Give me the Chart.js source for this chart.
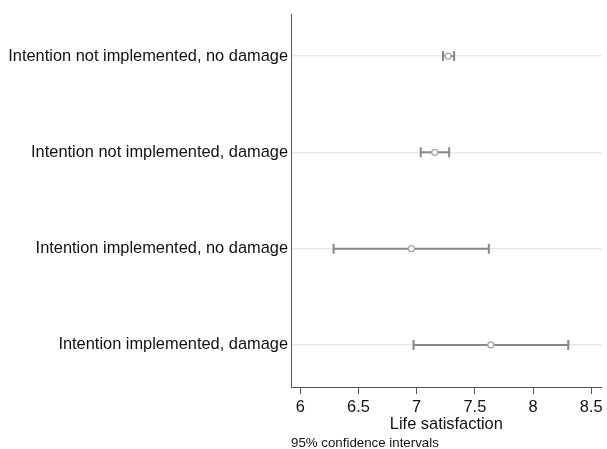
<!DOCTYPE html>
<html>
<head>
<meta charset="utf-8">
<script src="https://cdn.jsdelivr.net/npm/chart.js@4"></script>
<style>
html,body{margin:0;padding:0;background:#fff;}
#wrap{width:607px;height:449px;position:relative;}
</style>
</head>
<body>
<div id="wrap"><canvas id="c"></canvas></div>
<script>
const categories = [
  "Intention not implemented, no damage",
  "Intention not implemented, damage",
  "Intention implemented, no damage",
  "Intention implemented, damage"
];
const estimates = [7.27, 7.155, 6.955, 7.637];
const ciLower = [7.226, 7.035, 6.286, 6.973];
const ciUpper = [7.322, 7.279, 7.62, 8.303];
const xTicks = [6, 6.5, 7, 7.5, 8, 8.5];
const xTitle = "Life satisfaction";
const note = "95% confidence intervals";

const FONT = "'Liberation Sans', Arial, sans-serif";
const NOTE_SIZE = 13.3, NOTE_LH = 0.8;

const points = estimates.map((v, i) => ({x: v, y: i + 1}));

const errorBarPlugin = {
  id: 'errorBars',
  beforeDatasetsDraw(chart) {
    const ctx = chart.ctx;
    const xs = chart.scales.x, ys = chart.scales.y;
    ctx.save();
    ctx.strokeStyle = '#888888';
    ctx.lineWidth = 2;
    categories.forEach((c, i) => {
      const y = ys.getPixelForValue(i + 1);
      const x0 = xs.getPixelForValue(ciLower[i]);
      const x1 = xs.getPixelForValue(ciUpper[i]);
      ctx.beginPath();
      ctx.moveTo(x0, y); ctx.lineTo(x1, y);
      ctx.moveTo(x0, y - 5); ctx.lineTo(x0, y + 5);
      ctx.moveTo(x1, y - 5); ctx.lineTo(x1, y + 5);
      ctx.stroke();
    });
    ctx.restore();
  }
};

new Chart(document.getElementById('c'), {
  type: 'scatter',
  data: {
    datasets: [{
      data: points,
      pointStyle: 'circle',
      pointRadius: 3,
      pointBorderWidth: 1.3,
      pointBorderColor: '#a8a8a8',
      pointBackgroundColor: '#ffffff',
      showLine: false
    }]
  },
  options: {
    responsive: true,
    maintainAspectRatio: false,
    animation: false,
    layout: {padding: {top: 14, right: 3, left: 0, bottom: 0}},
    plugins: {
      legend: {display: false},
      tooltip: {enabled: false},
      subtitle: {
        display: true,
        text: note,
        position: 'bottom',
        align: 'start',
        fullSize: false,
        color: '#111',
        font: {family: FONT, size: NOTE_SIZE, lineHeight: NOTE_LH},
        padding: {top: 0, bottom: 0}
      }
    },
    scales: {
      x: {
        type: 'linear',
        min: 5.92,
        max: 8.59,
        afterBuildTicks(scale) { scale.ticks = xTicks.map(v => ({value: v})); },
        afterFit(scale) { scale.height = 449 - NOTE_SIZE * NOTE_LH - 387; },
        ticks: {
          color: '#111',
          font: {family: FONT, size: 16.4},
          padding: 4,
          maxRotation: 0,
          autoSkip: false,
          callback: v => String(v)
        },
        grid: {drawOnChartArea: false, drawTicks: true, tickLength: 7, tickColor: '#555', tickWidth: 1},
        border: {display: true, color: '#555', width: 1},
        title: {
          display: true,
          text: xTitle,
          color: '#111',
          font: {family: FONT, size: 16.4},
          padding: {top: 0, bottom: 4}
        }
      },
      y: {
        type: 'linear',
        reverse: true,
        min: 0.5625,
        max: 4.4375,
        afterBuildTicks(scale) { scale.ticks = categories.map((c, i) => ({value: i + 1})); },
        afterFit(scale) { scale.width = 291; },
        ticks: {
          color: '#111',
          font: {family: FONT, size: 16.4},
          padding: 3,
          autoSkip: false,
          callback: (v) => categories[v - 1]
        },
        grid: {color: '#e8e8e8', lineWidth: 1.5, drawTicks: false, tickLength: 0},
        border: {display: true, color: '#555', width: 1}
      }
    }
  },
  plugins: [errorBarPlugin]
});
</script>
</body>
</html>
